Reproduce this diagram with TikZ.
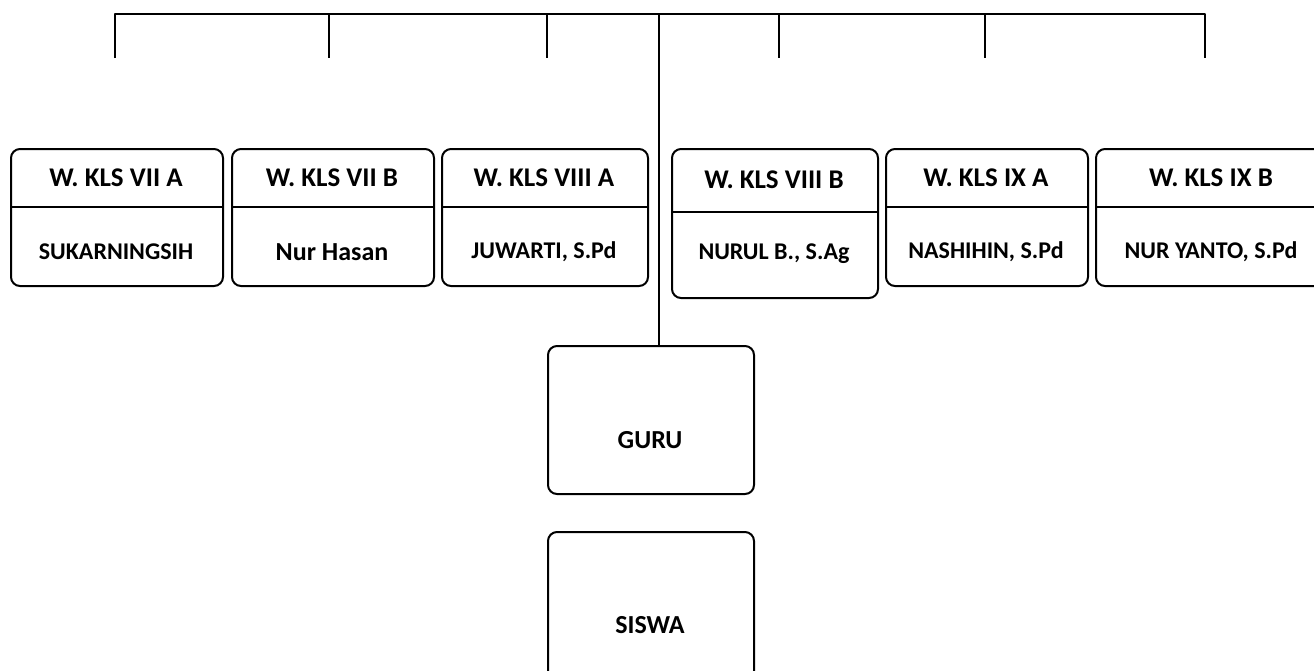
\documentclass[tikz,border=0pt]{standalone}
\usepackage{fontspec}
\setmainfont{Carlito}
% class box: frame, divider, header text and name text
\newcommand{\classbox}[9]{%
  \node[box, minimum width=#3pt, minimum height=#4pt] (#1) at (#2,148) {};
  \draw ([yshift=-#5pt]#1.north west) -- ([yshift=-#5pt]#1.north east);
  \node[headtxt] (#1h) at (#2+#3/2,#6) {#7};
  \node[#9]   (#1n) at (#2+#3/2,#6+74) {#8};
}
\begin{document}
\begin{tikzpicture}[x=1pt,y=-1pt,
  line width=2pt, line join=round,
  box/.style={draw, rounded corners=9pt, anchor=north west, inner sep=0pt},
  headtxt/.style={font=\fontsize{27}{31}\selectfont\bfseries},
  nametxt/.style={font=\fontsize{24}{28}\selectfont\bfseries},
  bigtxt/.style={font=\fontsize{26}{30}\selectfont\bfseries},
  wire/.style={line width=2pt, line cap=butt}]
\useasboundingbox (0,0) rectangle (1314,670);
\clip (0,0) rectangle (1314,670);

\classbox{ka}{10}{212}{137}{59}{178}{W. KLS VII A}{SUKARNINGSIH}{nametxt}
\classbox{kb}{231}{202}{137}{59}{178}{W. KLS VII B}{Nur Hasan}{bigtxt}
\classbox{kc}{441}{206}{137}{59}{178}{W. KLS VIII A}{JUWARTI, S.Pd}{nametxt}
\classbox{kd}{671}{206}{149}{64}{180}{W. KLS VIII B}{NURUL B., S.Ag}{nametxt}
\classbox{ke}{885}{202}{137}{59}{178}{W. KLS IX A}{NASHIHIN, S.Pd}{nametxt}
\classbox{kf}{1095}{232}{137}{59}{178}{W. KLS IX B}{NUR YANTO, S.Pd}{nametxt}

% teachers and students
\node[box, minimum width=206pt, minimum height=148pt] (guru) at (547,345) {};
\node[bigtxt] (gurut) at (650,440) {GURU};
\node[box, minimum width=206pt, minimum height=148pt] (siswa) at (547,531) {};
\node[bigtxt] (siswat) at (650,625) {SISWA};

% bus line and drops
\coordinate (bl) at (115,14);
\coordinate (br) at (1205,14);
\coordinate (top) at (659,14);
\draw[wire] (115,58) -- (bl) -- (br) -- (1205,58);
\foreach \x/\n in {329/b,547/c,779/d,985/e}{
  \coordinate (t\n) at (\x,14);
  \coordinate (e\n) at (\x,58);
  \draw[wire] (t\n) -- (e\n);
}
\draw[wire] (top) -- (guru.north -| top);
\end{tikzpicture}
\end{document}
